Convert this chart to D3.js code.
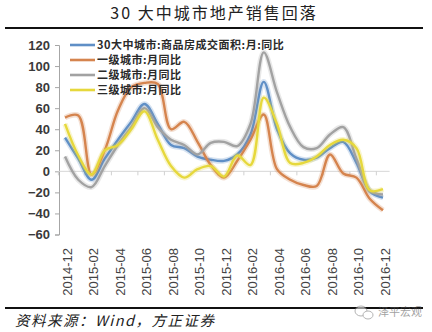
<!DOCTYPE html>
<html>
<head>
<meta charset="utf-8">
<script src="https://cdn.jsdelivr.net/npm/d3@7/dist/d3.min.js"></script>
<style>
  html, body { margin: 0; padding: 0; background: #fff; }
  svg { display: block; }
</style>
</head>
<body>
<svg id="chart" width="432" height="332"></svg>
<script>
// Monthly categories, Dec 2014 – Dec 2016
const months = ["2014-12","2015-01","2015-02","2015-03","2015-04","2015-05","2015-06",
  "2015-07","2015-08","2015-09","2015-10","2015-11","2015-12","2016-01","2016-02",
  "2016-03","2016-04","2016-05","2016-06","2016-07","2016-08","2016-09","2016-10",
  "2016-11","2016-12"];

// Year-on-year change of commodity housing sales area (%)
const city30 = [32, 12, -8, 12, 30, 47, 64, 45, 25, 22, 14, 11, 10, 16, 35, 85, 40, 17, 11, 13, 22, 28, 8, -19, -25];
const tier1  = [51, 53, -3, 20, 58, 80, 84, 83, 40, 47, 28, 6, -6, 10, 30, 54, 2, -8, -13, -14, 16, -2, -6, -26, -37];
const tier2  = [14, -8, -15, 5, 25, 42, 60, 42, 30, 25, 16, 27, 28, 24, 45, 113, 75, 42, 23, 22, 35, 42, 12, -18, -22];
const tier3  = [45, 15, -3, 20, 25, 40, 57, 30, 5, -6, 2, 5, -5, 15, 6, 70, 45, 8, 8, 14, 25, 30, 22, -18, -17];

const seriesNames = ["30大中城市:商品房成交面积:月:同比", "一级城市:月同比", "二级城市:月同比", "三级城市:月同比"];
const seriesColors = ["#5f8fc6", "#d5844e", "#a2a2a2", "#e6d83c"];
const seriesValues = [city30, tier1, tier2, tier3];

const yTicks = [120, 100, 80, 60, 40, 20, 0, -20, -40, -60];
const xLabels = months.filter((m, i) => i % 2 === 0);

const titleText = "30 大中城市地产销售回落";
const sourceText = "资料来源：Wind，方正证券";
const markText = "泽平宏观";

const svg = d3.select("#chart");

const x = d3.scalePoint().domain(months).range([58.4, 389.6]).padding(0.5);
const y = d3.scaleLinear().domain([-60, 120]).range([234.5, 45]);
const step = x.step();

// Title and rules
svg.append("text")
  .attr("x", 214).attr("y", 19)
  .attr("text-anchor", "middle")
  .style("font-family", "'Noto Sans CJK SC', sans-serif")
  .style("font-size", "16px")
  .style("letter-spacing", "2px")
  .attr("fill", "#222")
  .text(titleText);

svg.append("line").attr("x1", 5).attr("x2", 423).attr("y1", 28).attr("y2", 28)
  .attr("stroke", "#111").attr("stroke-width", 2.2);
svg.append("line").attr("x1", 5).attr("x2", 423).attr("y1", 308).attr("y2", 308)
  .attr("stroke", "#111").attr("stroke-width", 2.2);

// Y axis
const yAxis = d3.axisLeft(y).tickValues(yTicks).tickSize(4).tickPadding(5).tickFormat(d3.format("d"));
const gy = svg.append("g").attr("transform", "translate(59,0)").call(yAxis);
gy.select(".domain").attr("stroke", "#a6a6a6");
gy.selectAll(".tick line").attr("stroke", "#a6a6a6");
gy.selectAll(".tick text")
  .attr("fill", "#3a3a3a")
  .style("font-family", "Arial, 'Liberation Sans', sans-serif")
  .style("font-size", "13px")
  .style("font-weight", "bold")
  .text(d => d < 0 ? "\u2212" + Math.abs(d) : d);

// Zero baseline with tick marks every two months
svg.append("line")
  .attr("x1", 59).attr("x2", 389.6)
  .attr("y1", y(0)).attr("y2", y(0))
  .attr("stroke", "#d6d6d6").attr("stroke-width", 1);
svg.append("g").selectAll("line")
  .data(xLabels)
  .join("line")
  .attr("x1", d => x(d) - step / 2).attr("x2", d => x(d) - step / 2)
  .attr("y1", y(0)).attr("y2", y(0) + 4)
  .attr("stroke", "#d0d0d0");

// X labels, rotated
svg.append("g").selectAll("text")
  .data(xLabels)
  .join("text")
  .attr("transform", d => `translate(${x(d) + 2},248) rotate(-90)`)
  .attr("text-anchor", "end")
  .attr("dy", "0.35em")
  .attr("fill", "#444")
  .style("font-family", "Arial, 'Liberation Sans', sans-serif")
  .style("font-size", "13px")
  .text(d => d);

// Series lines with a soft glow
const line = d3.line()
  .x((d, i) => x(months[i]))
  .y(d => y(d))
  .curve(d3.curveCatmullRom.alpha(0.5));

const lines = svg.append("g");
seriesValues.forEach((vals, k) => {
  lines.append("path")
    .attr("d", line(vals))
    .attr("fill", "none")
    .attr("stroke", seriesColors[k])
    .attr("stroke-opacity", 0.25)
    .attr("stroke-width", 5.5)
    .attr("stroke-linejoin", "round");
  lines.append("path")
    .attr("d", line(vals))
    .attr("fill", "none")
    .attr("stroke", seriesColors[k])
    .attr("stroke-width", 2.4)
    .attr("stroke-linejoin", "round");
});

// Legend
const legend = svg.append("g");
seriesNames.forEach((name, k) => {
  const ly = 45 + k * 15;
  legend.append("line")
    .attr("x1", 70).attr("x2", 95).attr("y1", ly).attr("y2", ly)
    .attr("stroke", seriesColors[k]).attr("stroke-width", 2.6);
  legend.append("text")
    .attr("x", 97).attr("y", ly).attr("dy", "0.36em")
    .attr("fill", "#2a2a2a")
    .style("font-family", "'Noto Sans CJK SC', sans-serif")
    .style("font-size", "11px")
    .style("letter-spacing", "0.5px")
    .style("font-weight", "bold")
    .text(name);
});

// Source note
svg.append("text")
  .attr("x", 15).attr("y", 326)
  .attr("fill", "#222")
  .style("font-family", "'Noto Sans CJK SC', sans-serif")
  .style("font-size", "14.5px")
  .style("font-style", "italic")
  .style("letter-spacing", "1.5px")
  .text(sourceText);

// Watermark
const wm = svg.append("g").attr("opacity", 0.55);
wm.append("ellipse").attr("cx", 361).attr("cy", 311).attr("rx", 6).attr("ry", 5)
  .attr("fill", "#fff").attr("stroke", "#777").attr("stroke-width", 1);
wm.append("ellipse").attr("cx", 368).attr("cy", 315).attr("rx", 5).attr("ry", 4)
  .attr("fill", "#fff").attr("stroke", "#777").attr("stroke-width", 1);
wm.append("text")
  .attr("x", 378).attr("y", 316)
  .attr("fill", "#555")
  .style("font-family", "'Noto Sans CJK SC', sans-serif")
  .style("font-size", "11px")
  .text(markText);
</script>
</body>
</html>
